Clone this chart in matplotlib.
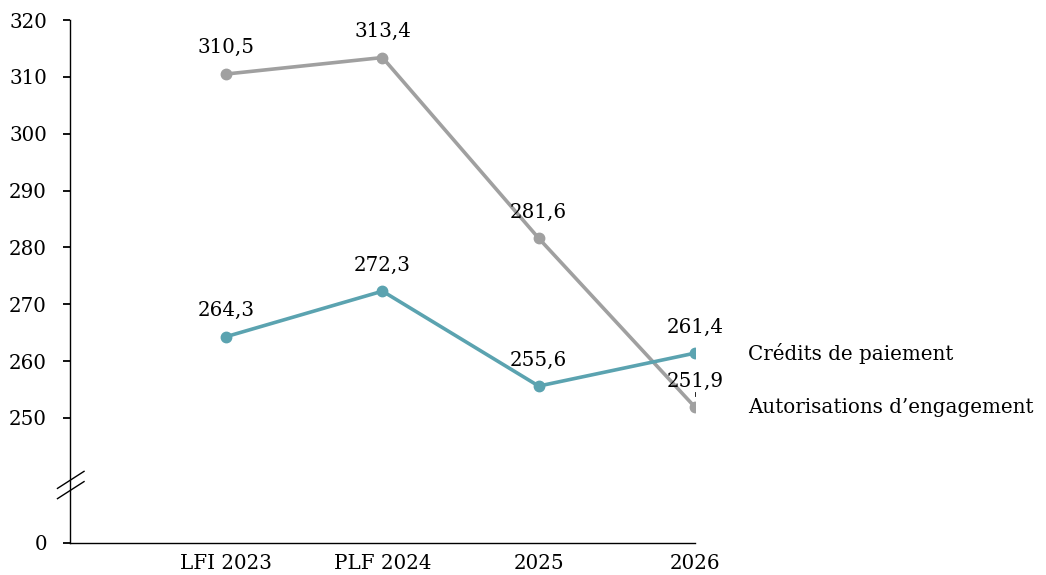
import matplotlib
matplotlib.use("Agg")
import matplotlib.pyplot as plt

# donnees (en M EUR)
categories = ["LFI 2023", "PLF 2024", "2025", "2026"]
ae = [310.5, 313.4, 281.6, 251.9]   # autorisations d'engagement
cp = [264.3, 272.3, 255.6, 261.4]   # credits de paiement
ytick_vals = [250, 260, 270, 280, 290, 300, 310, 320]

plt.rcParams["font.family"] = ["DejaVu Serif"]
plt.rcParams["font.size"] = 14.3

col_ae = "#a0a0a0"
col_cp = "#5ba3b0"

# axe coupe : 0 affiche a 228 pour garder l'echelle 250-320
y_zero = 228.0

fig = plt.figure(figsize=(10.46, 5.75), dpi=100)
ax = fig.add_axes([0.0669, 0.0557, 0.5975, 0.9095])

x = list(range(1, len(categories) + 1))
ax.plot(x, ae, color=col_ae, lw=2.6, marker="o", ms=7.5, zorder=3)
ax.plot(x, cp, color=col_cp, lw=2.6, marker="o", ms=7.5, zorder=4)

for xi, v in zip(x, ae):
    ax.annotate(f"{v:.1f}".replace(".", ","), (xi, v), xytext=(0, 12),
                textcoords="offset points", ha="center", va="bottom")
for xi, v in zip(x, cp):
    ax.annotate(f"{v:.1f}".replace(".", ","), (xi, v), xytext=(0, 12),
                textcoords="offset points", ha="center", va="bottom")

# petit trait de rappel sous 251,9
ax.plot([x[-1], x[-1]], [ae[-1] + 2.0, ae[-1] + 2.7], color="black", lw=0.6,
        clip_on=False)

ax.set_xlim(0, 4)
ax.set_ylim(y_zero, 320)
ax.set_xticks(x)
ax.set_xticklabels(categories)
ax.tick_params(axis="x", length=0, pad=8)
ax.set_yticks([y_zero] + ytick_vals)
ax.set_yticklabels(["0"] + [str(v) for v in ytick_vals])
ax.tick_params(axis="y", length=5, width=1.3, pad=11.5)
ax.spines["top"].set_visible(False)
ax.spines["right"].set_visible(False)
ax.spines["left"].set_linewidth(1.0)
ax.spines["bottom"].set_linewidth(1.0)

# marque de coupure de l'axe
for off in (0.0, 1.8):
    ax.plot([-0.08, 0.09], [237.6 - off, 240.6 - off], color="black", lw=1.0,
            clip_on=False)

# libelles des series a droite
ax.text(4.34, cp[-1], "Crédits de paiement", ha="left", va="center")
ax.text(4.34, ae[-1], "Autorisations d\u2019engagement", ha="left", va="center")

fig.savefig("out.png", dpi=100)
